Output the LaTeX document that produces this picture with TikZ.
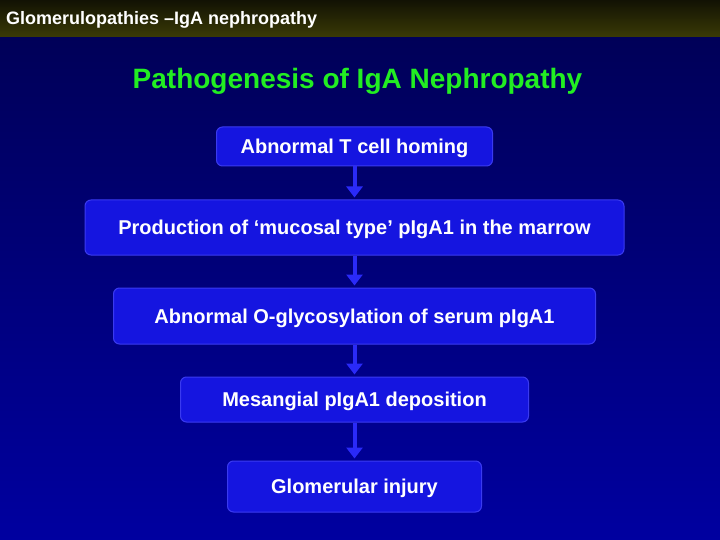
\documentclass[tikz,border=0pt]{standalone}
\usepackage{fontspec}
\setmainfont{Liberation Sans}
\usetikzlibrary{arrows.meta}
\definecolor{bgtop}{HTML}{000058}
\definecolor{bgbot}{HTML}{0000A0}
\definecolor{hdtop}{HTML}{121204}
\definecolor{hdbot}{HTML}{3A3A06}
\definecolor{boxfill}{HTML}{1515E0}
\definecolor{boxline}{HTML}{3A3AF0}
\definecolor{arrowc}{HTML}{2A2AF8}
\definecolor{titlegreen}{HTML}{22EE22}
\tikzset{
  stepbox/.style={draw=boxline, line width=1pt, fill=boxfill, rounded corners=6pt,
    text=white, font=\bfseries\fontsize{20}{22}\selectfont, inner sep=0pt, anchor=center,
    text height=14.4pt, text depth=0pt},
  flowarrow/.style={draw=arrowc, line width=4pt, -{Triangle[length=11pt,width=16pt]}, shorten >=2pt}
}
\begin{document}
\begin{tikzpicture}[x=1pt,y=-1pt]
\useasboundingbox (0,0) rectangle (720,540);
\shade[top color=bgtop, bottom color=bgbot] (0,37) rectangle (720,540);
\shade[top color=hdtop, bottom color=hdbot] (0,0) rectangle (720,37);
\node[text=white, font=\bfseries\fontsize{18}{20}\selectfont, anchor=west, inner sep=0pt, text height=13pt, text depth=0pt] (hdr) at (6,18) {Glomerulopathies –IgA nephropathy};
\node[text=titlegreen, font=\bfseries\fontsize{28}{30}\selectfont, text height=20pt, text depth=0pt, inner sep=0pt] (ttl) at (357.5,78.5) {Pathogenesis of IgA Nephropathy};
\node[stepbox, minimum width=276, minimum height=39] (b1) at (354.5,146.5) {Abnormal T cell homing};
\node[stepbox, minimum width=539, minimum height=55] (b2) at (354.5,227.5) {Production of ‘mucosal type’ pIgA1 in the marrow};
\node[stepbox, minimum width=482, minimum height=56] (b3) at (354.5,316) {Abnormal O-glycosylation of serum pIgA1};
\node[stepbox, minimum width=348, minimum height=45] (b4) at (354.5,399.5) {Mesangial pIgA1 deposition};
\node[stepbox, minimum width=254, minimum height=51] (b5) at (354.5,486.5) {Glomerular injury};
\draw[flowarrow] (b1.south) -- (b2.north);
\draw[flowarrow] (b2.south) -- (b3.north);
\draw[flowarrow] (b3.south) -- (b4.north);
\draw[flowarrow] (b4.south) -- (b5.north);
\end{tikzpicture}
\end{document}
